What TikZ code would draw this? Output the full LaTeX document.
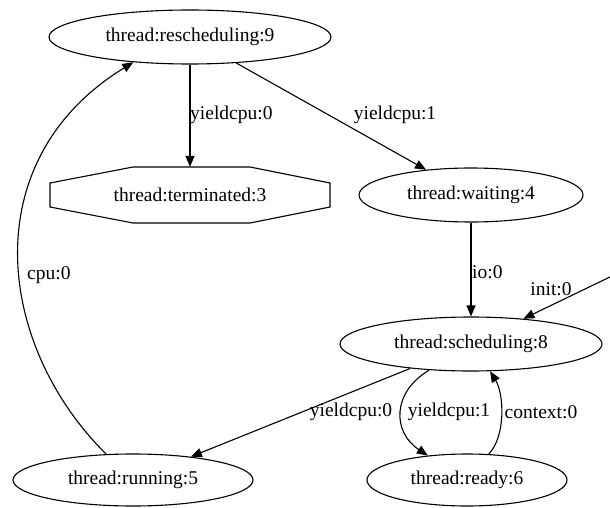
\documentclass[tikz,border=0pt]{standalone}
\usepackage{fontspec}
\setmainfont{Liberation Serif}
\usetikzlibrary{shapes.geometric,arrows.meta}
\begin{document}
\begin{tikzpicture}[x=1pt,y=-1pt,
  every node/.style={font=\fontsize{19.5}{22}\selectfont},
  st/.style={ellipse,draw,line width=1.1pt,inner sep=0pt},
  lbl/.style={inner sep=0pt},
  edge/.style={line width=1.1pt,-{Triangle[length=11pt,width=9pt]}}]
\fill[white] (0,0) rectangle (610,508);
\useasboundingbox (0,0) rectangle (610,508);
\node[st,minimum width=282pt,minimum height=54pt] (resched) at (190,37) {thread:rescheduling:9};
\node[inner sep=0pt,minimum width=280pt,minimum height=56pt] (term) at (190,195) {thread:terminated:3};
\draw[line width=1.1pt] (50,183) -- (133,167) -- (250,167) -- (330,183) -- (330,207) -- (250,223) -- (133,223) -- (50,207) -- cycle;
\node[st,minimum width=224pt,minimum height=54pt] (wait) at (471,195) {thread:waiting:4};
\node[st,minimum width=262pt,minimum height=54pt] (sched) at (471,344) {thread:scheduling:8};
\node[st,minimum width=240pt,minimum height=52pt] (run) at (133,480) {thread:running:5};
\node[st,minimum width=200pt,minimum height=52pt] (ready) at (467,480) {thread:ready:6};
\coordinate (initsrc) at (612,276);
\draw[edge] (resched.south -| term.north) -- (term.north);
\draw[edge] (resched) -- (wait);
\draw[edge] (wait) -- (sched);
\draw[edge] (initsrc) -- (sched);
\draw[edge] (sched) -- (run);
\draw[edge] (sched.212) .. controls (392,392) and (392,432) .. (ready.148);
\draw[edge] (ready.50) .. controls (506,436) and (504,394) .. (sched.305);
\draw[edge] (run.136) .. controls (-4,345) and (-26,160) .. (resched.204);
\node[lbl,anchor=west] (l1) at (190,115) {yieldcpu:0};
\node[lbl] (l2) at (395,115) {yieldcpu:1};
\node[lbl,anchor=west] (l3) at (472,272) {io:0};
\node[lbl] (l4) at (551,289) {init:0};
\node[lbl,anchor=west] (l5) at (27,275) {cpu:0};
\node[lbl] (l6) at (351,412) {yieldcpu:0};
\node[lbl] (l7) at (449,412) {yieldcpu:1};
\node[lbl] (l8) at (541,412) {context:0};
\end{tikzpicture}
\end{document}
